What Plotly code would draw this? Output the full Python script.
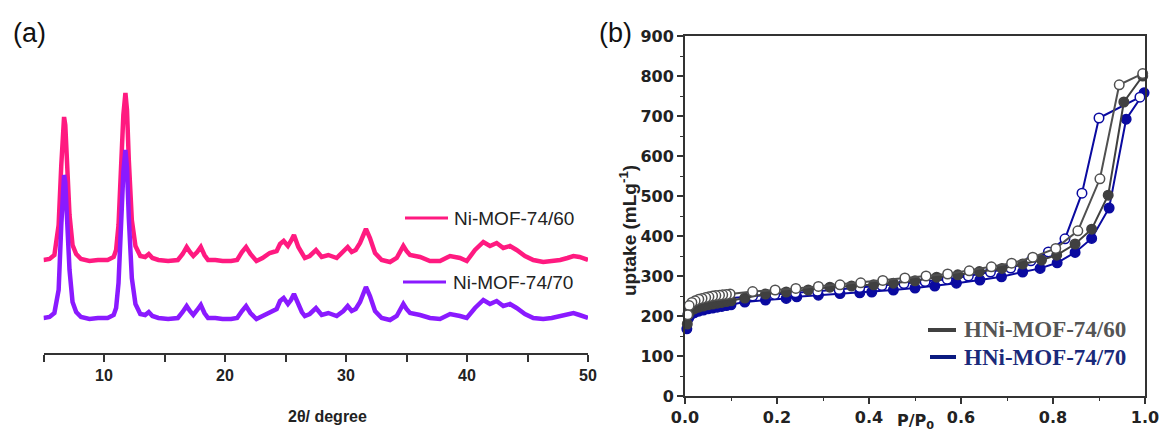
import plotly.graph_objects as go

W, H = 1161, 433

# ---------------- Panel (a): XRD ----------------
two_theta = [5.0, 5.5, 5.9, 6.25, 6.47, 6.6, 6.7, 6.8, 6.95, 7.15, 7.4, 7.7, 8.1, 8.8, 9.5, 10.3,
             10.8, 11.0, 11.2, 11.43, 11.6, 11.77, 11.9, 12.05, 12.3, 12.6, 13.0, 13.4, 13.7, 14.0,
             14.5, 15.3, 16.1, 16.5, 16.83, 17.1, 17.38, 17.7, 18.0, 18.3, 18.6, 19.2, 19.8, 20.5,
             21.0, 21.4, 21.74, 22.1, 22.6, 23.1, 23.7, 24.27, 24.55, 24.85, 25.2, 25.45, 25.7,
             26.06, 26.35, 26.6, 27.0, 27.52, 27.99, 28.54, 29.23, 29.78, 30.14, 30.47, 30.8,
             31.16, 31.45, 31.65, 31.98, 32.4, 32.95, 33.64, 34.19, 34.5, 34.74, 35.0, 35.29,
             36.12, 36.94, 37.77, 38.6, 39.42, 39.98, 40.66, 41.35, 41.9, 42.45, 43.0, 43.55,
             44.1, 44.79, 45.48, 46.3, 47.0, 47.7, 48.3, 48.8, 49.3, 49.6, 50.0]

xrd_60 = [35, 36, 40, 70, 130, 165, 178, 170, 130, 80, 50, 41, 36, 34, 35, 35,
          38, 45, 70, 135, 180, 202, 185, 135, 75, 49, 39, 38, 41, 37,
          35, 34, 35, 41, 48, 43, 39, 43, 48, 40, 35, 35, 34, 34,
          35, 43, 48, 41, 34, 37, 42, 44, 51, 54, 49, 54, 60,
          48, 41, 37, 39, 45, 38, 40, 37, 43, 48, 43, 45,
          52, 61, 66, 57, 42, 35, 33, 37, 45, 49, 44, 40,
          38, 34, 34, 39, 37, 34, 45, 53, 49, 52, 47, 49,
          45, 39, 35, 33, 34, 35, 37, 39, 38, 37, 35]

xrd_70 = [35, 36, 40, 63, 128, 163, 178, 171, 131, 83, 51, 41, 36, 34, 35, 35,
          38, 45, 70, 135, 181, 203, 185, 135, 75, 49, 39, 38, 41, 37,
          35, 34, 35, 41, 47, 42, 38, 43, 48, 40, 35, 35, 34, 34,
          35, 42, 47, 40, 34, 37, 41, 44, 52, 55, 49, 53, 59,
          48, 41, 37, 39, 45, 38, 40, 37, 42, 47, 42, 44,
          51, 61, 66, 57, 42, 35, 33, 37, 45, 49, 44, 40,
          38, 35, 34, 39, 37, 35, 45, 53, 49, 52, 47, 49,
          45, 39, 35, 34, 35, 37, 39, 40, 38, 37, 35]

OFFSET_60 = 58
xrd_ticks = [10, 20, 30, 40, 50]
xrd_minor = [5, 15, 25, 35, 45]

# ---------------- Panel (b): isotherms ----------------
p_ads_60 = [0.005, 0.008, 0.012, 0.02, 0.03, 0.04, 0.05, 0.06, 0.07, 0.08, 0.09, 0.10, 0.13, 0.175,
            0.22, 0.268, 0.315, 0.362, 0.41, 0.453, 0.5, 0.547, 0.593, 0.64, 0.689, 0.734, 0.775,
            0.808, 0.848, 0.884, 0.92, 0.954, 0.995]
v_ads_60 = [180, 205, 213, 218, 222, 225, 228, 230, 232, 234, 236, 238, 245, 255,
            260, 265, 272, 275, 278, 282, 288, 297, 303, 311, 319, 330, 340,
            352, 380, 417, 502, 735, 800]

p_des_60 = [0.995, 0.944, 0.902, 0.854, 0.806, 0.756, 0.71, 0.666, 0.618, 0.571, 0.524, 0.478,
            0.43, 0.382, 0.337, 0.29, 0.241, 0.196, 0.147, 0.098, 0.09, 0.082, 0.075, 0.067,
            0.06, 0.052, 0.045, 0.037, 0.03, 0.022, 0.015, 0.009, 0.006]
v_des_60 = [806, 778, 543, 413, 369, 347, 332, 323, 313, 305, 300, 295,
            289, 283, 278, 274, 269, 265, 261, 255, 254, 253, 252, 251,
            250, 248, 246, 244, 242, 238, 234, 226, 203]

p_ads_70 = [0.004, 0.008, 0.012, 0.02, 0.03, 0.04, 0.05, 0.06, 0.07, 0.08, 0.09, 0.10, 0.13, 0.175,
            0.22, 0.243, 0.29, 0.337, 0.38, 0.406, 0.453, 0.5, 0.543, 0.59, 0.641, 0.688, 0.734,
            0.772, 0.809, 0.848, 0.884, 0.922, 0.959, 0.998]
v_ads_70 = [168, 195, 203, 208, 212, 215, 218, 220, 222, 224, 226, 228, 235, 240,
            244, 248, 252, 256, 258, 260, 265, 270, 275, 282, 290, 298, 310,
            319, 333, 359, 394, 470, 692, 758]

p_des_70 = [0.989, 0.90, 0.863, 0.826, 0.79, 0.752, 0.708, 0.664, 0.616, 0.57, 0.522, 0.476,
            0.428, 0.38, 0.335, 0.288, 0.24, 0.195, 0.147, 0.09, 0.08, 0.07, 0.06, 0.05,
            0.04, 0.03, 0.02, 0.012, 0.007]
v_des_70 = [747, 695, 507, 393, 360, 338, 320, 310, 300, 292, 286, 281,
            276, 271, 266, 262, 258, 254, 250, 244, 242, 240, 238, 236,
            233, 230, 226, 220, 205]

iso_xticks = [0.0, 0.2, 0.4, 0.6, 0.8, 1.0]
iso_yticks = [0, 100, 200, 300, 400, 500, 600, 700, 800, 900]

PINK = "#ff1a80"
VIOLET = "#8a1aff"
GRAY = "#404040"
BLUE = "#0a0aa0"

fig = go.Figure()

fig.add_trace(go.Scatter(x=two_theta, y=[v + OFFSET_60 for v in xrd_60], mode="lines",
                         line=dict(color=PINK, width=4.5), name="Ni-MOF-74/60",
                         xaxis="x", yaxis="y", showlegend=False))
fig.add_trace(go.Scatter(x=two_theta, y=xrd_70, mode="lines",
                         line=dict(color=VIOLET, width=4.5), name="Ni-MOF-74/70",
                         xaxis="x", yaxis="y", showlegend=False))

def iso(x, y, color, filled, name):
    return go.Scatter(
        x=x, y=y, mode="lines+markers", name=name, xaxis="x2", yaxis="y2",
        line=dict(color=color, width=2),
        marker=dict(symbol="circle", size=9.5,
                    color=color if filled else "white",
                    line=dict(color=color, width=1.5)),
        cliponaxis=False, showlegend=False)

fig.add_trace(iso(p_ads_70, v_ads_70, BLUE, True, "HNi-MOF-74/70 adsorption"))
fig.add_trace(iso(p_des_70, v_des_70, BLUE, False, "HNi-MOF-74/70 desorption"))
fig.add_trace(iso(p_ads_60, v_ads_60, GRAY, True, "HNi-MOF-74/60 adsorption"))
fig.add_trace(iso(p_des_60, v_des_60, "#505050", False, "HNi-MOF-74/60 desorption"))

def fx(px):
    return px / W

def fy(py):
    return 1 - py / H

AX = "#333333"
fig.update_layout(
    width=W, height=H, autosize=False,
    margin=dict(l=0, r=0, t=0, b=0),
    paper_bgcolor="white", plot_bgcolor="white",
    xaxis=dict(domain=[fx(43.5), fx(588)], range=[5, 50], anchor="y",
               showline=True, linecolor=AX, linewidth=2, showgrid=False, zeroline=False,
               ticks="outside", ticklen=7, tickwidth=1.5, tickcolor=AX,
               tickvals=xrd_ticks, ticktext=[str(t) for t in xrd_ticks],
               tickfont=dict(family="Liberation Sans", size=16, color="#222", weight="bold"),
               minor=dict(tickvals=xrd_minor, ticks="outside", ticklen=7, tickwidth=1.5, tickcolor=AX),
               automargin=False),
    yaxis=dict(domain=[fy(353), fy(85)], range=[0, 268], visible=False, anchor="x"),
    xaxis2=dict(domain=[fx(685), fx(1145)], range=[0, 1], anchor="y2",
                showline=True, mirror=True, linecolor=AX, linewidth=2, showgrid=False, zeroline=False,
                ticks="outside", ticklen=6, tickwidth=1.5, tickcolor=AX,
                tickvals=iso_xticks, tickformat=".1f",
                tickfont=dict(family="DejaVu Sans", size=16, color="#222", weight="bold"),
                minor=dict(dtick=0.1, ticks="outside", ticklen=3, tickwidth=1.2, tickcolor=AX),
                automargin=False),
    yaxis2=dict(domain=[fy(396), fy(36)], range=[0, 900], anchor="x2",
                showline=True, mirror=True, linecolor=AX, linewidth=2, showgrid=False, zeroline=False,
                ticks="outside", ticklen=6, tickwidth=1.5, tickcolor=AX,
                tickvals=iso_yticks,
                tickfont=dict(family="DejaVu Sans", size=16, color="#222", weight="bold"),
                minor=dict(dtick=50, ticks="outside", ticklen=3, tickwidth=1.2, tickcolor=AX),
                automargin=False),
)

def note(text, x, y, size, family="Liberation Sans", color="#222", weight="normal",
         xanchor="center", yanchor="middle", angle=0):
    return dict(text=text, x=fx(x), y=fy(y), xref="paper", yref="paper", showarrow=False,
                xanchor=xanchor, yanchor=yanchor, textangle=angle,
                font=dict(family=family, size=size, color=color, weight=weight))

ann = [
    note("(a)", 29, 33, 27, color="#111"),
    note("(b)", 615, 33, 27, color="#111"),
    note("2θ/ degree", 327, 416, 16, weight="bold"),
    note("Ni-MOF-74/60", 452, 218, 19, xanchor="left"),
    note("Ni-MOF-74/70", 451, 282, 19, xanchor="left"),
    note("uptake (mLg<sup>-1</sup>)", 628, 230, 19, weight="bold", angle=-90),
    note("P/P<sub>0</sub>", 916, 409, 16, family="DejaVu Sans", weight="bold", yanchor="top"),
    note("HNi-MOF-74/60", 962, 329, 23, family="Liberation Serif", color="#555",
         weight="bold", xanchor="left"),
    note("HNi-MOF-74/70", 962, 357, 23, family="Liberation Serif", color="#1a2a7a",
         weight="bold", xanchor="left"),
]
fig.update_layout(annotations=ann)

def seg(x0, x1, y, color, width):
    return dict(type="line", xref="paper", yref="paper", x0=fx(x0), x1=fx(x1),
                y0=fy(y), y1=fy(y), line=dict(color=color, width=width))

fig.update_layout(shapes=[
    seg(405, 448, 218, PINK, 3),
    seg(403, 446, 282, VIOLET, 3),
    seg(928, 956, 330, GRAY, 4),
    seg(930, 956, 357, "#0a1a80", 4),
])

fig.write_html("out.html", config={"displayModeBar": False},
               post_script="document.body.style.margin='0';document.body.style.overflow='hidden';")
